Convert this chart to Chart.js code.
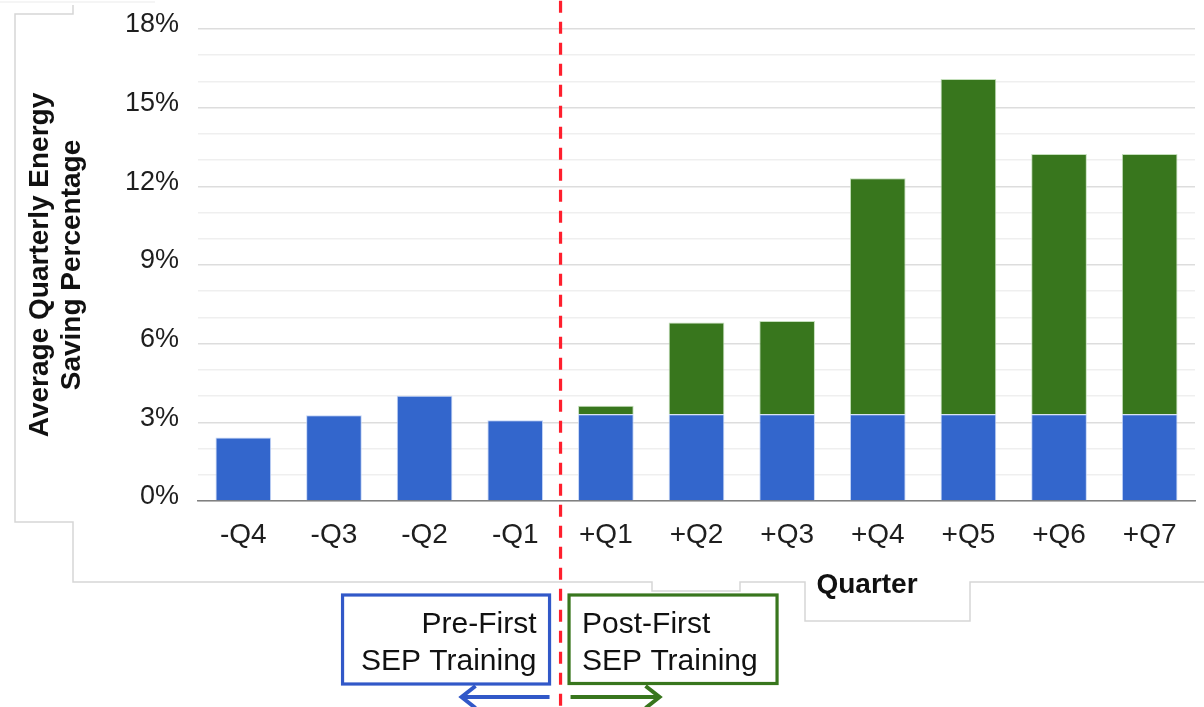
<!DOCTYPE html>
<html lang="en">
<head>
  <meta charset="UTF-8">
  <title>Average Quarterly Energy Saving Percentage</title>
  <style>
    html, body { margin: 0; padding: 0; background: #fff; }
    .chart-wrap { position: relative; width: 1204px; height: 707px; }
  </style>
</head>
<body>
  <div class="chart-wrap"><canvas id="savingChart"></canvas></div>

  <script src="https://cdn.jsdelivr.net/npm/chart.js"></script>
  <script>
    // Chart data
    const quarters = ['-Q4', '-Q3', '-Q2', '-Q1', '+Q1', '+Q2', '+Q3', '+Q4', '+Q5', '+Q6', '+Q7'];
    const baseSaving = [2.42, 3.27, 4.01, 3.08, 3.31, 3.31, 3.31, 3.31, 3.31, 3.31, 3.31];
    const extraSaving = [null, null, null, null, 0.32, 3.50, 3.55, 9.00, 12.78, 9.92, 9.92];
    const yTicks = [0, 3, 6, 9, 12, 15, 18];
    const yTitle = ['Average Quarterly Energy', 'Saving Percentage'];
    const xTitle = 'Quarter';
    const preLabel = ['Pre-First', 'SEP Training'];
    const postLabel = ['Post-First', 'SEP Training'];

    const FONT = '"Liberation Sans", Arial, Helvetica, sans-serif';
    const BLUE = '#3366cc';
    const GREEN = '#38761d';

    Chart.defaults.font.family = FONT;

    // faint frame lines left over from the slide the chart was cut from
    const frameLines = {
      id: 'frameLines',
      beforeDraw(chart) {
        const ctx = chart.ctx;
        ctx.save();
        ctx.strokeStyle = '#f2f2f2';
        ctx.lineWidth = 1.5;
        ctx.beginPath();
        ctx.moveTo(0, 2); ctx.lineTo(155, 2);
        ctx.stroke();
        ctx.strokeStyle = '#d6d6d6';
        ctx.beginPath();
        ctx.moveTo(73, 5); ctx.lineTo(73, 14); ctx.lineTo(15, 14);
        ctx.lineTo(15, 522); ctx.lineTo(73, 522); ctx.lineTo(73, 582);
        ctx.lineTo(652, 582); ctx.lineTo(652, 591); ctx.lineTo(740, 591);
        ctx.lineTo(740, 582); ctx.lineTo(805, 582); ctx.lineTo(805, 621);
        ctx.lineTo(970, 621); ctx.lineTo(970, 582); ctx.lineTo(1204, 582);
        ctx.stroke();
        ctx.restore();
      }
    };

    function drawArrow(ctx, x1, x2, y, color) {
      const dir = x2 > x1 ? 1 : -1;
      ctx.strokeStyle = color;
      ctx.lineWidth = 4;
      ctx.lineCap = 'butt';
      ctx.beginPath();
      ctx.moveTo(x1, y);
      ctx.lineTo(x2 - dir * 2, y);
      ctx.stroke();
      ctx.lineJoin = 'miter';
      ctx.beginPath();
      ctx.moveTo(x2 - dir * 14, y - 11);
      ctx.lineTo(x2, y);
      ctx.lineTo(x2 - dir * 14, y + 11);
      ctx.stroke();
    }

    // divider, period boxes and x title
    const annotations = {
      id: 'annotations',
      afterDraw(chart) {
        const ctx = chart.ctx;
        const xs = chart.scales.x;
        const divX = (xs.getPixelForValue(3) + xs.getPixelForValue(4)) / 2;

        ctx.save();

        // x axis title
        ctx.fillStyle = '#111';
        ctx.font = 'bold 28px ' + FONT;
        ctx.textAlign = 'center';
        ctx.textBaseline = 'alphabetic';
        ctx.fillText(xTitle, 867, 593);

        // period boxes
        ctx.lineWidth = 3.2;
        ctx.strokeStyle = '#3158c8';
        ctx.strokeRect(divX - 218, 595, 207, 89);
        ctx.strokeStyle = GREEN;
        ctx.strokeRect(divX + 8.5, 595, 208, 88.5);

        ctx.fillStyle = '#111';
        ctx.font = '30px ' + FONT;
        ctx.textAlign = 'right';
        ctx.fillText(preLabel[0], divX - 24, 633);
        ctx.fillText(preLabel[1], divX - 24, 670);
        ctx.textAlign = 'left';
        ctx.fillText(postLabel[0], divX + 21.5, 633);
        ctx.fillText(postLabel[1], divX + 21.5, 670);

        drawArrow(ctx, divX - 11, divX - 99, 697, '#3158c8');
        drawArrow(ctx, divX + 10, divX + 99, 697, GREEN);

        // red dashed divider
        ctx.strokeStyle = '#ff1f2d';
        ctx.lineWidth = 3.2;
        ctx.setLineDash([12, 9]);
        ctx.beginPath();
        ctx.moveTo(divX, 0.7);
        ctx.lineTo(divX, 707);
        ctx.stroke();

        ctx.restore();
      }
    };

    const data = {
      labels: quarters,
      datasets: [
        {
          label: 'Baseline',
          data: baseSaving,
          backgroundColor: BLUE,
          borderColor: 'rgba(190, 208, 245, 0.9)',
          borderWidth: 1,
          barPercentage: 0.614,
          categoryPercentage: 1
        },
        {
          label: 'Additional',
          data: extraSaving,
          backgroundColor: GREEN,
          borderColor: 'rgba(190, 220, 180, 0.9)',
          borderWidth: 1,
          barPercentage: 0.614,
          categoryPercentage: 1
        }
      ]
    };

    const config = {
      type: 'bar',
      data: data,
      plugins: [frameLines, annotations],
      options: {
        responsive: true,
        maintainAspectRatio: false,
        animation: false,
        layout: {
          padding: { left: 0, top: 29, right: 9, bottom: 146 }
        },
        plugins: {
          legend: { display: false },
          tooltip: { enabled: false }
        },
        scales: {
          x: {
            stacked: true,
            grid: { display: false },
            border: { display: true, color: '#808080', width: 1.5 },
            ticks: {
              color: '#1e1e1e',
              font: { size: 28 },
              padding: 9,
              maxRotation: 0,
              autoSkip: false
            },
            afterFit(scale) { scale.height = 60; }
          },
          y: {
            stacked: true,
            min: 0,
            max: 18,
            border: { display: false },
            grid: {
              drawTicks: false,
              lineWidth: 1.5,
              color: (c) => yTicks.includes(c.tick.value) ? '#dddddd' : '#efefef'
            },
            ticks: {
              stepSize: 1,
              autoSkip: false,
              padding: 19,
              labelOffset: -4,
              color: '#1e1e1e',
              font: { size: 27 },
              callback: (v) => yTicks.includes(v) ? v + '%' : ''
            },
            title: {
              display: true,
              text: yTitle,
              color: '#111',
              font: { size: 28, weight: 'bold', lineHeight: 1.15 },
              padding: { top: 24, bottom: 0 }
            },
            afterFit(scale) {
              scale.width = 198;
              scale.paddingTop = 0;
              scale.paddingBottom = 0;
            }
          }
        }
      }
    };

    const savingChart = new Chart(document.getElementById('savingChart'), config);
  </script>
</body>
</html>
